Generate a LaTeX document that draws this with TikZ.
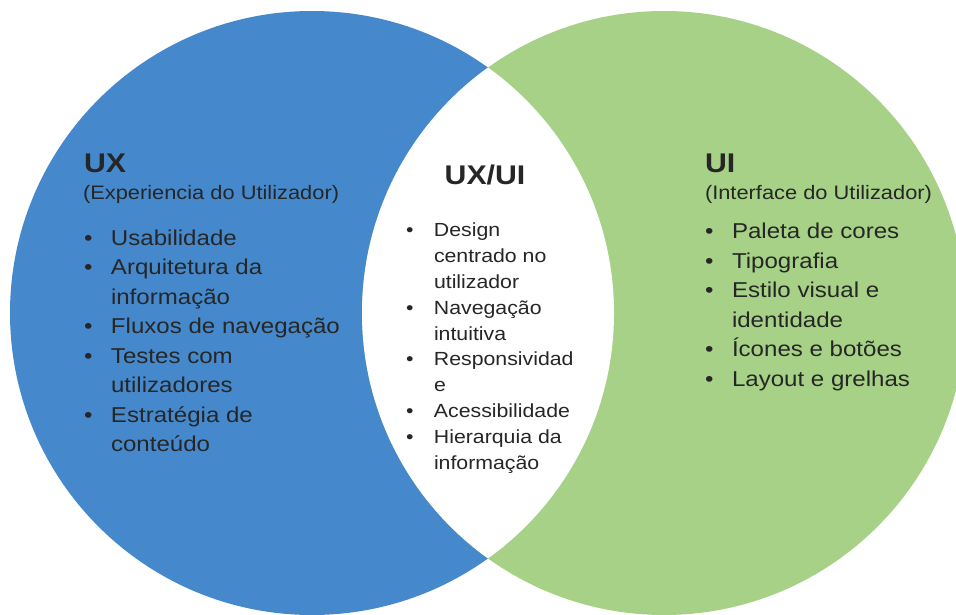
\documentclass[tikz,border=0pt]{standalone}
\usepackage{fontspec}
\setmainfont{Liberation Sans}[FakeStretch=1.12]
\usepackage{array}
\definecolor{uxblue}{HTML}{4589CC}
\definecolor{uigreen}{HTML}{A6D186}
\definecolor{ink}{HTML}{262626}
\tikzset{
  txt/.style={inner sep=0pt, outer sep=0pt, text=ink, font=\fontsize{21.5}{29.5}\selectfont},
  ttl/.style={inner sep=0pt, outer sep=0pt, text=ink, font=\fontsize{27}{30}\selectfont\bfseries},
  sub/.style={inner sep=0pt, outer sep=0pt, text=ink, font=\fontsize{19.5}{24}\selectfont},
  mid/.style={inner sep=0pt, outer sep=0pt, text=ink, font=\fontsize{19}{25.9}\selectfont},
}
\begin{document}
\begin{tikzpicture}[x=1pt,y=-1pt]
\useasboundingbox (0,0) rectangle (956,615);
\clip (0,0) rectangle (956,615);
\fill[white] (0,0) rectangle (956,615);
% circles
\coordinate (cl) at (312,313);
\coordinate (cr) at (664,313);
\fill[uxblue] (cl) circle[radius=302];
\fill[uigreen] (cr) circle[radius=302];
\begin{scope}
  \clip (cl) circle[radius=302];
  \fill[white] (cr) circle[radius=302];
\end{scope}
% left
\node[ttl, anchor=base west] (uxt) at (84,172) {UX};
\node[sub, anchor=base west] (uxs) at (83,199) {(Experiencia do Utilizador)};
\node[txt, anchor=base west] (uxl) at (84,245) {%
\begin{tabular}[t]{@{}p{27pt}@{}l@{}}
\textbullet & Usabilidade\\
\textbullet & Arquitetura da\\
 & informação\\
\textbullet & Fluxos de navegação\\
\textbullet & Testes com\\
 & utilizadores\\
\textbullet & Estratégia de\\
 & conteúdo
\end{tabular}};
% middle
\node[ttl, anchor=base] (mt) at (485,184) {UX/UI};
\node[mid, anchor=base west] (ml) at (406,236.5) {%
\begin{tabular}[t]{@{}p{28pt}@{}l@{}}
\textbullet & Design\\
 & centrado no\\
 & utilizador\\
\textbullet & Navegação\\
 & intuitiva\\
\textbullet & Responsividad\\
 & e\\
\textbullet & Acessibilidade\\
\textbullet & Hierarquia da\\
 & informação
\end{tabular}};
% right
\node[ttl, anchor=base west] (uit) at (705,172) {UI};
\node[sub, anchor=base west] (uis) at (705,200) {(Interface do Utilizador)};
\node[txt, anchor=base west] (uil) at (705,238.5) {%
\begin{tabular}[t]{@{}p{27pt}@{}l@{}}
\textbullet & Paleta de cores\\
\textbullet & Tipografia\\
\textbullet & Estilo visual e\\
 & identidade\\
\textbullet & Ícones e botões\\
\textbullet & Layout e grelhas
\end{tabular}};
\end{tikzpicture}
\end{document}
